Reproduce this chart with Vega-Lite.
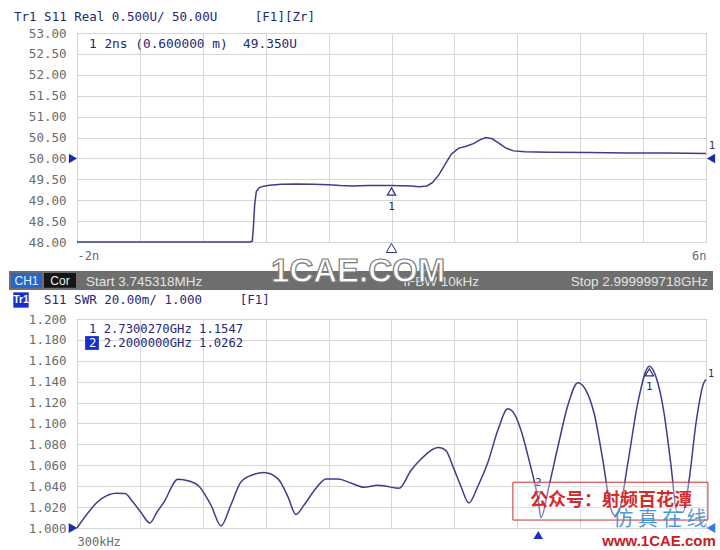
{
  "$schema": "https://vega.github.io/schema/vega-lite/v6.json",
  "background": "white",
  "padding": {"left": 0, "top": 10, "right": 0, "bottom": 0},
  "config": {
    "view": {"stroke": "#8c8c8c", "strokeWidth": 1},
    "axis": {"labelFont": "DejaVu Sans Mono", "labelColor": "#6a6a6a", "gridColor": "#d6d6d6", "gridOpacity": 1, "domain": false, "ticks": false, "title": null},
    "title": {"font": "DejaVu Sans Mono", "fontSize": 12.5, "fontWeight": "normal", "color": "#1f2a72", "anchor": "start", "frame": "group", "dx": -63},
    "text": {"font": "DejaVu Sans Mono", "color": "#24287a"}
  },
  "datasets": {
    "tdr": [
      {"t": -2, "z": 48.0}, {"t": 0.2, "z": 48.0}, {"t": 0.23, "z": 48.02}, {"t": 0.245, "z": 48.4}, {"t": 0.26, "z": 48.9},
      {"t": 0.28, "z": 49.2}, {"t": 0.31, "z": 49.29}, {"t": 0.36, "z": 49.33}, {"t": 0.45, "z": 49.36}, {"t": 0.6, "z": 49.38},
      {"t": 0.8, "z": 49.39}, {"t": 1.0, "z": 49.38}, {"t": 1.2, "z": 49.37}, {"t": 1.35, "z": 49.35}, {"t": 1.5, "z": 49.34},
      {"t": 1.7, "z": 49.35}, {"t": 2.0, "z": 49.35}, {"t": 2.25, "z": 49.34}, {"t": 2.35, "z": 49.32}, {"t": 2.45, "z": 49.34},
      {"t": 2.52, "z": 49.42}, {"t": 2.6, "z": 49.6}, {"t": 2.68, "z": 49.85}, {"t": 2.76, "z": 50.1}, {"t": 2.85, "z": 50.24},
      {"t": 2.95, "z": 50.29}, {"t": 3.05, "z": 50.36}, {"t": 3.13, "z": 50.45}, {"t": 3.2, "z": 50.5}, {"t": 3.28, "z": 50.47},
      {"t": 3.36, "z": 50.37}, {"t": 3.45, "z": 50.25}, {"t": 3.55, "z": 50.18}, {"t": 3.7, "z": 50.16}, {"t": 4.0, "z": 50.15},
      {"t": 4.5, "z": 50.14}, {"t": 5.0, "z": 50.13}, {"t": 5.5, "z": 50.13}, {"t": 6.0, "z": 50.12}
    ],
    "swr": [
      {"f": 0.0003, "s": 1.0}, {"f": 0.114, "s": 1.0276}, {"f": 0.186, "s": 1.0333}, {"f": 0.229, "s": 1.033}, {"f": 0.267, "s": 1.0248},
      {"f": 0.305, "s": 1.015}, {"f": 0.348, "s": 1.0048}, {"f": 0.381, "s": 1.015}, {"f": 0.415, "s": 1.0248}, {"f": 0.482, "s": 1.0467},
      {"f": 0.534, "s": 1.045}, {"f": 0.582, "s": 1.04}, {"f": 0.639, "s": 1.022}, {"f": 0.687, "s": 1.002}, {"f": 0.734, "s": 1.022},
      {"f": 0.782, "s": 1.044}, {"f": 0.839, "s": 1.051}, {"f": 0.892, "s": 1.053}, {"f": 0.959, "s": 1.047}, {"f": 1.006, "s": 1.03},
      {"f": 1.044, "s": 1.013}, {"f": 1.083, "s": 1.022}, {"f": 1.14, "s": 1.038}, {"f": 1.187, "s": 1.047}, {"f": 1.245, "s": 1.047},
      {"f": 1.307, "s": 1.043}, {"f": 1.369, "s": 1.039}, {"f": 1.435, "s": 1.041}, {"f": 1.474, "s": 1.04}, {"f": 1.536, "s": 1.038},
      {"f": 1.593, "s": 1.055}, {"f": 1.641, "s": 1.066}, {"f": 1.726, "s": 1.077}, {"f": 1.76, "s": 1.074}, {"f": 1.793, "s": 1.059},
      {"f": 1.831, "s": 1.04}, {"f": 1.869, "s": 1.024}, {"f": 1.912, "s": 1.04}, {"f": 1.96, "s": 1.063}, {"f": 2.008, "s": 1.094},
      {"f": 2.055, "s": 1.114}, {"f": 2.089, "s": 1.108}, {"f": 2.117, "s": 1.094}, {"f": 2.156, "s": 1.065}, {"f": 2.2, "s": 1.0262},
      {"f": 2.213, "s": 1.01}, {"f": 2.251, "s": 1.04}, {"f": 2.294, "s": 1.078}, {"f": 2.342, "s": 1.118}, {"f": 2.389, "s": 1.139},
      {"f": 2.427, "s": 1.132}, {"f": 2.466, "s": 1.11}, {"f": 2.508, "s": 1.065}, {"f": 2.547, "s": 1.018}, {"f": 2.566, "s": 1.012},
      {"f": 2.585, "s": 1.016}, {"f": 2.628, "s": 1.063}, {"f": 2.675, "s": 1.12}, {"f": 2.73, "s": 1.1547}, {"f": 2.761, "s": 1.145},
      {"f": 2.8, "s": 1.11}, {"f": 2.833, "s": 1.06}, {"f": 2.862, "s": 1.015}, {"f": 2.89, "s": 1.015}, {"f": 2.919, "s": 1.045},
      {"f": 2.952, "s": 1.1}, {"f": 2.99, "s": 1.139}, {"f": 3.0, "s": 1.142}
    ]
  },
  "bounds": "flush",
  "spacing": 29,
  "vconcat": [
    {
      "width": 629,
      "height": 209,
      "title": {"text": "Tr1 S11 Real 0.500U/ 50.00U\u00a0\u00a0\u00a0\u00a0\u00a0[F1][Zr]", "offset": 4},
      "layer": [
        {
          "data": {"name": "tdr"},
          "mark": {"type": "line", "color": "#3d3d8c", "strokeWidth": 1.5},
          "encoding": {
            "x": {"field": "t", "type": "quantitative", "scale": {"domain": [-2, 6], "nice": false, "zero": false},
              "axis": {"values": [-2, -1.2, -0.4, 0.4, 1.2, 2, 2.8, 3.6, 4.4, 5.2, 6], "tickCount": 20, "labelExpr": "datum.value == -2 ? '-2n' : (datum.value == 6 ? '6n' : '')", "labelFlush": true, "labelOverlap": false, "labelPadding": 8, "labelFontSize": 12, "grid": true}},
            "y": {"field": "z", "type": "quantitative", "scale": {"domain": [48, 53], "nice": false, "zero": false},
              "axis": {"values": [48, 48.5, 49, 49.5, 50, 50.5, 51, 51.5, 52, 52.5, 53], "tickCount": 20, "format": ".2f", "labelOverlap": false, "labelFontSize": 12.5, "labelPadding": 11, "minExtent": 76, "maxExtent": 76, "grid": true}}
          }
        },
        {
          "data": {"values": [{"t": 2, "z": 49.35, "id": "1"}]},
          "layer": [
            {"mark": {"type": "point", "shape": "triangle-up", "filled": false, "stroke": "#2a2e88", "strokeWidth": 1.2, "size": 70, "yOffset": 6, "opacity": 1},
             "encoding": {"x": {"field": "t", "type": "quantitative"}, "y": {"field": "z", "type": "quantitative"}}},
            {"mark": {"type": "text", "dy": 21, "fontSize": 11},
             "encoding": {"x": {"field": "t", "type": "quantitative"}, "y": {"field": "z", "type": "quantitative"}, "text": {"field": "id"}}},
            {"mark": {"type": "point", "shape": "triangle-up", "filled": false, "stroke": "#2a2e88", "strokeWidth": 1, "size": 110, "yOffset": 6, "opacity": 1},
             "encoding": {"x": {"field": "t", "type": "quantitative"}, "y": {"datum": 48, "type": "quantitative"}}}
          ]
        },
        {
          "data": {"values": [{}]},
          "layer": [
            {"mark": {"type": "point", "shape": "triangle-right", "filled": true, "color": "#1a2aa8", "size": 90, "xOffset": -4, "opacity": 1},
             "encoding": {"x": {"datum": -2, "type": "quantitative"}, "y": {"datum": 50, "type": "quantitative"}}},
            {"mark": {"type": "point", "shape": "triangle-left", "filled": true, "color": "#1a2aa8", "size": 90, "xOffset": 5, "opacity": 1},
             "encoding": {"x": {"datum": 6, "type": "quantitative"}, "y": {"datum": 50, "type": "quantitative"}}},
            {"mark": {"type": "text", "text": "1", "fontSize": 10, "dx": 6, "dy": -7},
             "encoding": {"x": {"datum": 6, "type": "quantitative"}, "y": {"datum": 50.12, "type": "quantitative"}}},
            {"mark": {"type": "text", "text": "1 2ns (0.600000 m)\u00a0\u00a049.350U", "fontSize": 12.8, "align": "left", "baseline": "middle", "dx": 12, "dy": 11},
             "encoding": {"x": {"datum": -2, "type": "quantitative"}, "y": {"datum": 53, "type": "quantitative"}}}
          ]
        }
      ]
    },
    {
      "width": 629,
      "height": 19,
      "view": {"stroke": null},
      "data": {"values": [{}]},
      "layer": [
        {"mark": {"type": "rect", "color": "#6e6e6e"},
         "encoding": {"x": {"datum": -0.1081, "type": "quantitative", "scale": {"domain": [0, 1], "nice": false, "zero": false}, "axis": null},
           "x2": {"datum": 1.0111},
           "y": {"datum": 0, "type": "quantitative", "scale": {"domain": [0, 1], "nice": false}, "axis": null},
           "y2": {"datum": 1}}},
        {"mark": {"type": "rect", "color": "#2566c8"},
         "encoding": {"x": {"datum": -0.1049, "type": "quantitative"}, "x2": {"datum": -0.0557}, "y": {"datum": 0.12, "type": "quantitative"}, "y2": {"datum": 0.9}}},
        {"mark": {"type": "rect", "color": "#151515"},
         "encoding": {"x": {"datum": -0.0525, "type": "quantitative"}, "x2": {"datum": -0.0016}, "y": {"datum": 0.12, "type": "quantitative"}, "y2": {"datum": 0.9}}},
        {"mark": {"type": "text", "text": "CH1", "font": "Liberation Sans", "fontSize": 12, "color": "#e8f0ff", "baseline": "middle"},
         "encoding": {"x": {"datum": -0.0803, "type": "quantitative"}, "y": {"datum": 0.5, "type": "quantitative"}}},
        {"mark": {"type": "text", "text": "Cor", "font": "Liberation Sans", "fontSize": 12, "color": "#f0f0f0", "baseline": "middle"},
         "encoding": {"x": {"datum": -0.027, "type": "quantitative"}, "y": {"datum": 0.5, "type": "quantitative"}}},
        {"mark": {"type": "text", "text": "Start 3.745318MHz", "font": "Liberation Sans", "fontSize": 13.5, "color": "#e4e4e4", "align": "left", "baseline": "middle"},
         "encoding": {"x": {"datum": 0.0143, "type": "quantitative"}, "y": {"datum": 0.42, "type": "quantitative"}}},
        {"mark": {"type": "text", "text": "IFBW 10kHz", "font": "Liberation Sans", "fontSize": 13.5, "color": "#e4e4e4", "align": "center", "baseline": "middle"},
         "encoding": {"x": {"datum": 0.579, "type": "quantitative"}, "y": {"datum": 0.42, "type": "quantitative"}}},
        {"mark": {"type": "text", "text": "Stop 2.999999718GHz", "font": "Liberation Sans", "fontSize": 13.5, "color": "#e4e4e4", "align": "right", "baseline": "middle"},
         "encoding": {"x": {"datum": 1.0032, "type": "quantitative"}, "y": {"datum": 0.42, "type": "quantitative"}}},
        {"mark": {"type": "text", "text": "1CAE.COM", "font": "Liberation Sans", "fontWeight": "bold", "fontSize": 33, "color": "#ffffff", "stroke": "#7a7a7a", "strokeWidth": 1.2, "align": "center", "baseline": "middle"},
         "encoding": {"x": {"datum": 0.447, "type": "quantitative"}, "y": {"datum": 0.95, "type": "quantitative"}}}
      ]
    },
    {
      "width": 629,
      "height": 209,
      "layer": [
        {
          "data": {"name": "swr"},
          "mark": {"type": "line", "color": "#3d3d8c", "strokeWidth": 1.5, "interpolate": "monotone"},
          "encoding": {
            "x": {"field": "f", "type": "quantitative", "scale": {"domain": [0.0003, 3], "nice": false, "zero": false},
              "axis": {"values": [0.0003, 0.3, 0.6, 0.9, 1.2, 1.5, 1.8, 2.1, 2.4, 2.7, 3.0], "tickCount": 20, "labelExpr": "datum.value < 0.001 ? '300kHz' : ''", "labelFlush": true, "labelOverlap": false, "labelPadding": 8, "labelFontSize": 12, "grid": true}},
            "y": {"field": "s", "type": "quantitative", "scale": {"domain": [1.0, 1.2], "nice": false, "zero": false},
              "axis": {"values": [1.0, 1.02, 1.04, 1.06, 1.08, 1.1, 1.12, 1.14, 1.16, 1.18, 1.2], "tickCount": 20, "format": ".3f", "labelOverlap": false, "labelFontSize": 12.5, "labelPadding": 11, "minExtent": 76, "maxExtent": 76, "grid": true}}
          }
        },
        {
          "data": {"values": [{"f": 2.73, "s": 1.1547, "id": "1"}]},
          "layer": [
            {"mark": {"type": "point", "shape": "triangle-up", "filled": false, "stroke": "#2a2e88", "strokeWidth": 1.2, "size": 70, "yOffset": 6, "opacity": 1},
             "encoding": {"x": {"field": "f", "type": "quantitative"}, "y": {"field": "s", "type": "quantitative"}}},
            {"mark": {"type": "text", "dy": 21, "fontSize": 11},
             "encoding": {"x": {"field": "f", "type": "quantitative"}, "y": {"field": "s", "type": "quantitative"}, "text": {"field": "id"}}}
          ]
        },
        {
          "data": {"values": [{"f": 2.2, "s": 1.0262, "id": "2"}]},
          "layer": [
            {"mark": {"type": "point", "shape": "triangle-down", "filled": false, "stroke": "#2a2e88", "strokeWidth": 1.2, "size": 40, "yOffset": -6, "opacity": 1},
             "encoding": {"x": {"field": "f", "type": "quantitative"}, "y": {"field": "s", "type": "quantitative"}}},
            {"mark": {"type": "text", "dy": -18, "fontSize": 11},
             "encoding": {"x": {"field": "f", "type": "quantitative"}, "y": {"field": "s", "type": "quantitative"}, "text": {"field": "id"}}},
            {"mark": {"type": "point", "shape": "triangle-up", "filled": true, "color": "#1530c8", "size": 90, "yOffset": 7, "opacity": 1},
             "encoding": {"x": {"field": "f", "type": "quantitative"}, "y": {"datum": 1.0, "type": "quantitative"}}}
          ]
        },
        {
          "data": {"values": [{}]},
          "layer": [
            {"mark": {"type": "point", "shape": "square", "filled": true, "color": "#1530c8", "size": 235, "xOffset": -56, "yOffset": -19, "opacity": 1},
             "encoding": {"x": {"datum": 0.0003, "type": "quantitative"}, "y": {"datum": 1.2, "type": "quantitative"}}},
            {"mark": {"type": "text", "text": "Tr1", "font": "Liberation Sans", "fontWeight": "bold", "fontSize": 10.5, "align": "center", "baseline": "middle", "dx": -56, "dy": -19, "color": "#ffffff"},
             "encoding": {"x": {"datum": 0.0003, "type": "quantitative"}, "y": {"datum": 1.2, "type": "quantitative"}}},
            {"mark": {"type": "text", "text": "S11 SWR 20.00m/ 1.000\u00a0\u00a0\u00a0\u00a0\u00a0[F1]", "fontSize": 12.5, "align": "left", "baseline": "middle", "dx": -33, "dy": -19, "color": "#1f2a72"},
             "encoding": {"x": {"datum": 0.0003, "type": "quantitative"}, "y": {"datum": 1.2, "type": "quantitative"}}},
            {"mark": {"type": "point", "shape": "triangle-right", "filled": true, "color": "#1a2aa8", "size": 100, "xOffset": -4, "opacity": 1},
             "encoding": {"x": {"datum": 0.0003, "type": "quantitative"}, "y": {"datum": 1.0, "type": "quantitative"}}},
            {"mark": {"type": "point", "shape": "triangle-left", "filled": true, "color": "#3a7ae0", "size": 100, "xOffset": 5, "opacity": 1},
             "encoding": {"x": {"datum": 3.0, "type": "quantitative"}, "y": {"datum": 1.0, "type": "quantitative"}}},
            {"mark": {"type": "text", "text": "1", "fontSize": 10, "dx": 5, "dy": -6},
             "encoding": {"x": {"datum": 3.0, "type": "quantitative"}, "y": {"datum": 1.142, "type": "quantitative"}}},
            {"mark": {"type": "text", "text": "1 2.7300270GHz 1.1547", "fontSize": 12.2, "align": "left", "baseline": "middle", "dx": 12, "dy": 10},
             "encoding": {"x": {"datum": 0.0003, "type": "quantitative"}, "y": {"datum": 1.2, "type": "quantitative"}}},
            {"mark": {"type": "text", "text": "2 2.2000000GHz 1.0262", "fontSize": 12.2, "align": "left", "baseline": "middle", "dx": 12, "dy": 24},
             "encoding": {"x": {"datum": 0.0003, "type": "quantitative"}, "y": {"datum": 1.2, "type": "quantitative"}}},
            {"mark": {"type": "point", "shape": "square", "filled": true, "color": "#1530c8", "size": 190, "xOffset": 15, "yOffset": 24, "opacity": 1},
             "encoding": {"x": {"datum": 0.0003, "type": "quantitative"}, "y": {"datum": 1.2, "type": "quantitative"}}},
            {"mark": {"type": "text", "text": "2", "fontSize": 12.2, "align": "left", "baseline": "middle", "dx": 12, "dy": 24, "color": "#ffffff"},
             "encoding": {"x": {"datum": 0.0003, "type": "quantitative"}, "y": {"datum": 1.2, "type": "quantitative"}}},
            {"mark": {"type": "rect", "fill": "#ffffff", "fillOpacity": 0.35, "stroke": "#c83030", "strokeWidth": 1},
             "encoding": {"x": {"datum": 2.079, "type": "quantitative"}, "x2": {"datum": 3.009}, "y": {"datum": 1.0438, "type": "quantitative"}, "y2": {"datum": 1.0076}}},
            {"mark": {"type": "text", "text": "公众号：射频百花潭", "font": "Noto Sans CJK SC", "fontSize": 18, "fontWeight": "bold", "color": "#d42a2a", "align": "center", "baseline": "middle"},
             "encoding": {"x": {"datum": 2.547, "type": "quantitative"}, "y": {"datum": 1.0257, "type": "quantitative"}}},
            {"mark": {"type": "text", "text": "仿\u00a0真\u00a0在\u00a0线", "font": "Noto Sans CJK SC", "fontSize": 20, "color": "#3a8fd8", "align": "center", "baseline": "middle", "opacity": 0.9},
             "encoding": {"x": {"datum": 2.78, "type": "quantitative"}, "y": {"datum": 1.0076, "type": "quantitative"}}},
            {"mark": {"type": "text", "text": "www.1CAE.com", "font": "Liberation Sans", "fontWeight": "bold", "fontSize": 15, "color": "#c8201e", "align": "center", "baseline": "middle"},
             "encoding": {"x": {"datum": 2.776, "type": "quantitative"}, "y": {"datum": 0.9876, "type": "quantitative"}}}
          ]
        }
      ]
    }
  ]
}
